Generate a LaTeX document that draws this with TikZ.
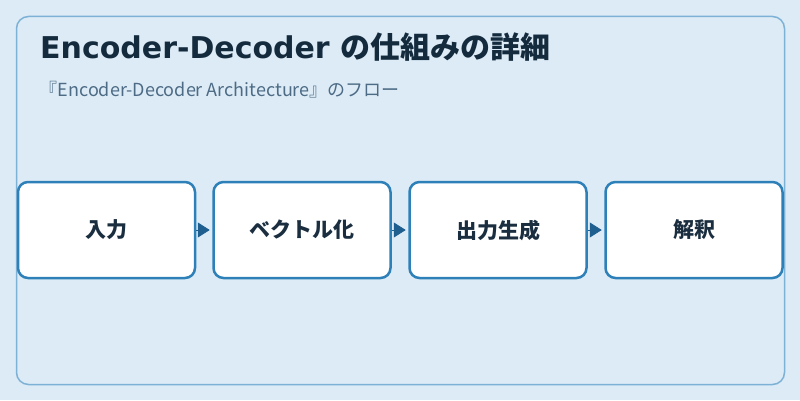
\documentclass[tikz,border=0pt]{standalone}
\usepackage{fontspec}
\setmainfont{Noto Sans CJK JP}
\newfontfamily\jpfont{Noto Sans CJK JP}
\newfontfamily\dvfont{DejaVu Sans}
\usetikzlibrary{arrows.meta}
\definecolor{bgc}{HTML}{DCEBF6}
\definecolor{framec}{HTML}{7DB2D6}
\definecolor{boxc}{HTML}{2E80B9}
\definecolor{arrc}{HTML}{1F5F8F}
\definecolor{titlec}{HTML}{142B3E}
\definecolor{subc}{HTML}{4D6B85}
\definecolor{txtc}{HTML}{1A2E40}
\tikzset{
  stepbox/.style={draw=boxc, line width=2.5pt, fill=white, rounded corners=10pt,
    minimum width=177pt, minimum height=96pt, inner sep=0pt,
    font=\jpfont\fontsize{21pt}{23pt}\selectfont\bfseries, text=txtc},
  flowarrow/.style={draw=arrc, line width=0.8pt, -{Triangle[length=12pt,width=15pt]}, shorten >=2.5pt, shorten <=0pt},
}
\begin{document}
\begin{tikzpicture}[x=1pt,y=1pt]
\useasboundingbox (0,0) rectangle (800,400);
\fill[bgc] (0,0) rectangle (800,400);
\draw[framec, line width=1.5pt, rounded corners=12pt] (16.5,383.5) rectangle (784.5,15.5);
\node[anchor=base west, text=titlec, font=\fontsize{30pt}{33pt}\selectfont\bfseries, inner sep=0pt] (title) at (40,341.7) {{\dvfont Encoder-Decoder }{\jpfont の仕組みの詳細}};
\node[anchor=base west, text=subc, font=\jpfont\fontsize{18pt}{20pt}\selectfont, inner sep=0pt] (sub) at (39.5,304) {『Encoder-Decoder Architecture』のフロー};
\node[stepbox] (s1) at (106.5,170) {入力};
\node[stepbox] (s2) at (302,170) {ベクトル化};
\node[stepbox] (s3) at (498,170) {出力生成};
\node[stepbox] (s4) at (694,170) {解釈};
\draw[flowarrow] (s1.east) -- (s2.west);
\draw[flowarrow] (s2.east) -- (s3.west);
\draw[flowarrow] (s3.east) -- (s4.west);
\end{tikzpicture}
\end{document}
